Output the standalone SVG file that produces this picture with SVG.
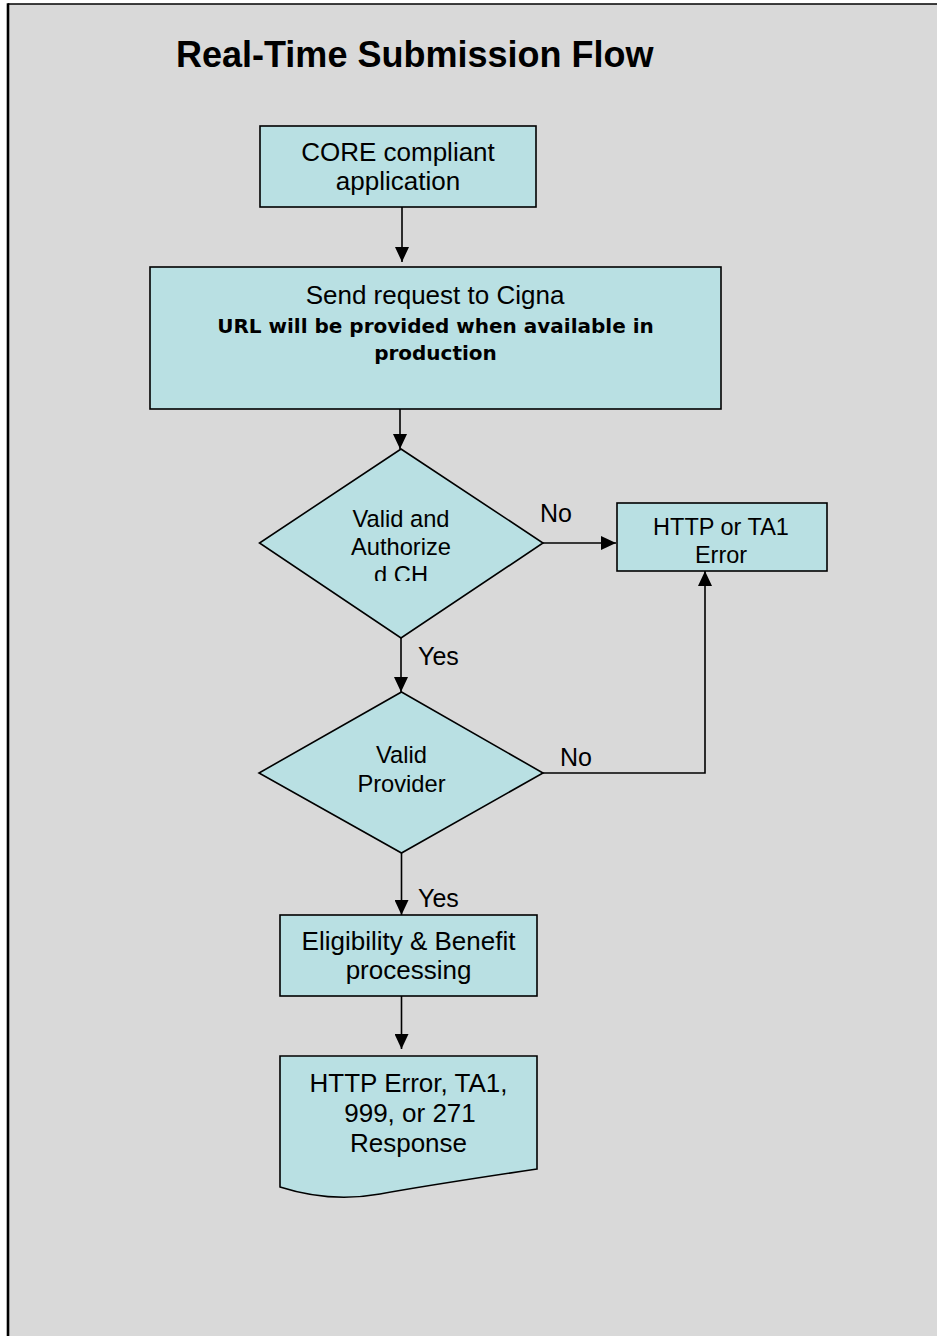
<svg xmlns="http://www.w3.org/2000/svg" width="937" height="1336" viewBox="0 0 937 1336">
  <defs>
    <style>
      .shape { fill: #B9E0E3; stroke: #000; stroke-width: 1.6; }
      .conn { fill: none; stroke: #000; stroke-width: 1.6; }
      .t { font-family: "Liberation Sans", Arial, sans-serif; fill: #000; text-anchor: middle; }
      .lbl { font-family: "Liberation Sans", Arial, sans-serif; fill: #000; font-size: 25px; }
      .b { font-family: "DejaVu Sans", Verdana, sans-serif; font-weight: bold; font-size: 20px; text-anchor: middle; fill: #000; }
    </style>
    <marker id="arrow" markerUnits="userSpaceOnUse" markerWidth="15" markerHeight="14" refX="15" refY="7" orient="auto">
      <path d="M0,0 L15,7 L0,14 Z" fill="#000"/>
    </marker>
    <clipPath id="clipD1">
      <rect x="300" y="500" width="200" height="81"/>
    </clipPath>
  </defs>

  <rect x="0" y="0" width="937" height="1336" fill="#FFFFFF"/>
  <rect x="8" y="4" width="940" height="1340" fill="#D9D9D9"/>
  <line x1="8" y1="4" x2="937" y2="4" stroke="#000" stroke-width="1.6"/>
  <line x1="8" y1="3.2" x2="8" y2="1336" stroke="#000" stroke-width="2.6"/>

  <g id="title">
    <text x="176" y="67" font-family="Liberation Sans, Arial, sans-serif" font-weight="bold" font-size="36" fill="#000">Real-Time Submission Flow</text>
  </g>

  <g id="connectors">
    <path class="conn" d="M402,207 L402,262" marker-end="url(#arrow)"/>
    <path class="conn" d="M400,405 L400,449" marker-end="url(#arrow)"/>
    <path class="conn" d="M543,543 L616,543" marker-end="url(#arrow)"/>
    <path class="conn" d="M401,632 L401,692" marker-end="url(#arrow)"/>
    <path class="conn" d="M543,773 L705,773 L705,571" marker-end="url(#arrow)"/>
    <path class="conn" d="M401.5,853 L401.5,915" marker-end="url(#arrow)"/>
    <path class="conn" d="M401.5,996 L401.5,1049" marker-end="url(#arrow)"/>
    <text class="lbl" x="540" y="522">No</text>
    <text class="lbl" x="418" y="665">Yes</text>
    <text class="lbl" x="560" y="766">No</text>
    <text class="lbl" x="418" y="907">Yes</text>
  </g>

  <g id="node-core">
    <rect class="shape" x="260" y="126" width="276" height="81"/>
    <text class="t" x="398" y="161" font-size="26">CORE compliant</text>
    <text class="t" x="398" y="190" font-size="26">application</text>
  </g>

  <g id="node-send">
    <rect class="shape" x="150" y="267" width="571" height="142"/>
    <text class="t" x="435" y="304" font-size="26">Send request to Cigna</text>
    <text class="b" x="435.5" y="333">URL will be provided when available in</text>
    <text class="b" x="435.5" y="360">production</text>
  </g>

  <g id="node-valid-ch">
    <polygon class="shape" points="401,449 543,543 401,638 259.5,543"/>
    <g clip-path="url(#clipD1)">
      <text class="t" x="401" y="527" font-size="23.7">Valid and</text>
      <text class="t" x="401" y="555" font-size="23.7">Authorize</text>
      <text class="t" x="401" y="583" font-size="23.7">d CH</text>
    </g>
  </g>

  <g id="node-http-error">
    <rect class="shape" x="617" y="503" width="210" height="68"/>
    <text class="t" x="721" y="535" font-size="23.5">HTTP or TA1</text>
    <text class="t" x="721" y="563" font-size="23.5">Error</text>
  </g>

  <g id="node-valid-provider">
    <polygon class="shape" points="401.5,692 543,773 401.5,853 259,773"/>
    <text class="t" x="401.5" y="763" font-size="23.7">Valid</text>
    <text class="t" x="401.5" y="792" font-size="23.7">Provider</text>
  </g>

  <g id="node-eligibility">
    <rect class="shape" x="280" y="915" width="257" height="81"/>
    <text class="t" x="408.5" y="950" font-size="26">Eligibility &amp; Benefit</text>
    <text class="t" x="408.5" y="979" font-size="26">processing</text>
  </g>

  <g id="node-response">
    <path class="shape" d="M280,1056 L537,1056 L537,1169 Q430,1185 380,1194 Q330,1203 280,1187 Z"/>
    <text class="t" x="408.5" y="1092" font-size="26">HTTP Error, TA1,</text>
    <text class="t" x="410" y="1122" font-size="26">999, or 271</text>
    <text class="t" x="408.5" y="1152" font-size="26">Response</text>
  </g>
</svg>
